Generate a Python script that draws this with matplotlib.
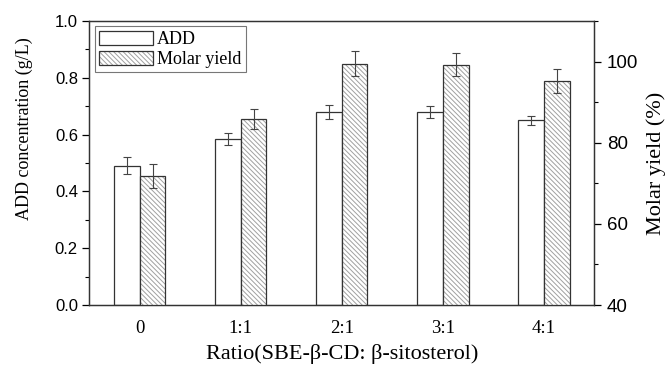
import numpy as np
import matplotlib
matplotlib.use("Agg")
import matplotlib.pyplot as plt
from matplotlib.ticker import MultipleLocator
from matplotlib.legend_handler import HandlerTuple

# data
ratios = ["0", "1:1", "2:1", "3:1", "4:1"]
add_conc = [0.49, 0.585, 0.68, 0.68, 0.65]
add_err = [0.03, 0.02, 0.025, 0.02, 0.015]
yield_pct = [71.8, 85.8, 99.5, 99.2, 95.2]
yield_err = [3.0, 2.5, 3.0, 2.8, 3.0]

plt.rcParams['hatch.linewidth'] = 0.7

fig = plt.figure(figsize=(6.7, 3.68), dpi=100)
ax = fig.add_axes([0.133, 0.171, 0.754, 0.772])
ax2 = ax.twinx()

x = np.arange(len(ratios))
w = 0.255
serif = 'Liberation Serif'
sans = 'Liberation Sans'
ekw = dict(ecolor='#444444', elinewidth=0.8, capsize=3, capthick=0.8)

b1 = ax.bar(x - w/2, add_conc, w, color='white', edgecolor='#333333', linewidth=0.9,
            yerr=add_err, error_kw=ekw)
# hatched fill in light grey, then a dark outline on top
b2h = ax2.bar(x + w/2, yield_pct, w, color='white', edgecolor='#a0a0a0', linewidth=0,
              hatch='\\' * 7)
b2o = ax2.bar(x + w/2, yield_pct, w, fill=False, edgecolor='#333333', linewidth=0.9,
              yerr=yield_err, error_kw=ekw)

ax.set_xlim(-0.5, 4.5)
ax.set_ylim(0, 1.0)
ax2.set_ylim(40, 110)

ax.yaxis.set_minor_locator(MultipleLocator(0.1))
ax2.yaxis.set_minor_locator(MultipleLocator(10))
ax.set_yticks([0, 0.2, 0.4, 0.6, 0.8, 1.0])
ax.set_yticklabels(["0.0", "0.2", "0.4", "0.6", "0.8", "1.0"], fontfamily=sans, fontsize=12)
ax2.set_yticks([40, 60, 80, 100])
ax2.set_yticklabels(["40", "60", "80", "100"], fontfamily=sans, fontsize=13.5)

ax.set_xticks(x)
ax.set_xticklabels(ratios, fontfamily=serif, fontsize=13.5)
ax.tick_params(axis='x', length=0, pad=11)
ax.tick_params(axis='y', which='major', length=5, width=0.9, direction='out', pad=3)
ax.tick_params(axis='y', which='minor', length=3, width=0.8, direction='out')
ax2.tick_params(axis='y', which='major', length=5, width=0.9, direction='out', pad=4)
ax2.tick_params(axis='y', which='minor', length=3, width=0.8, direction='out')

for a in (ax, ax2):
    for s in a.spines.values():
        s.set_linewidth(0.9)
        s.set_color('#333333')

ax.set_ylabel("ADD concentration (g/L)", fontfamily=serif, fontsize=13)
ax.yaxis.set_label_coords(-0.111, 0.62)
ax2.set_ylabel("Molar yield (%)", fontfamily=serif, fontsize=16, labelpad=6)
ax.set_xlabel("Ratio(SBE-β-CD: β-sitosterol)", fontfamily=serif, fontsize=16, labelpad=5)

leg = ax.legend([b1, (b2h, b2o)], ['ADD', 'Molar yield'], loc='upper left',
                handler_map={tuple: HandlerTuple(ndivide=1, pad=0)},
                prop={'family': serif, 'size': 13}, frameon=True, fancybox=False,
                edgecolor='#555555', handlelength=3.0, handleheight=0.8,
                handletextpad=0.2, borderpad=0.25, labelspacing=0.15,
                borderaxespad=0.3)
leg.get_frame().set_linewidth(0.8)

fig.savefig("out.png", dpi=100)
